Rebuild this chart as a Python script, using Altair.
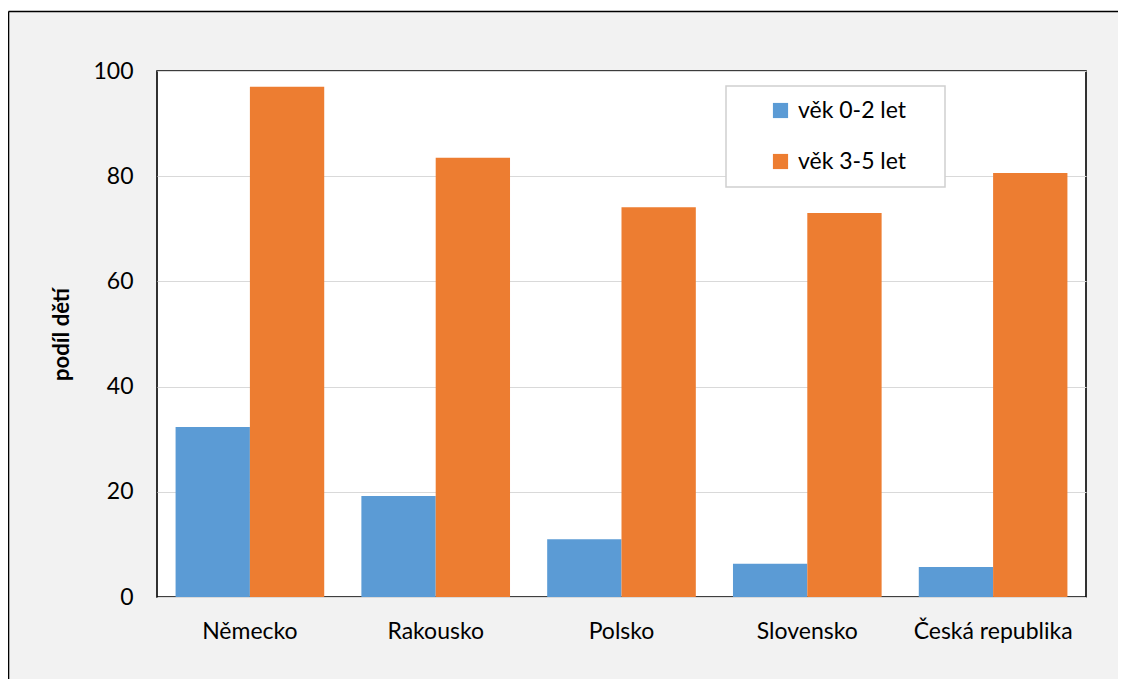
import altair as alt
import pandas as pd

countries = ["Německo", "Rakousko", "Polsko", "Slovensko", "Česká republika"]
age_0_2 = [32.3, 19.2, 11.0, 6.3, 5.7]
age_3_5 = [97.0, 83.5, 74.1, 73.0, 80.6]
series = ["věk 0-2 let", "věk 3-5 let"]
colors = ["#5b9bd5", "#ed7d31"]
y_ticks = [0, 20, 40, 60, 80, 100]

rows = []
for c, a, b in zip(countries, age_0_2, age_3_5):
    rows.append({"země": c, "skupina": series[0], "podíl": a})
    rows.append({"země": c, "skupina": series[1], "podíl": b})
df = pd.DataFrame(rows)

FONT = "Lato"

bars = alt.Chart(df).mark_bar().encode(
    x=alt.X("země:N", sort=countries,
            scale=alt.Scale(paddingInner=0.2, paddingOuter=0.1),
            axis=alt.Axis(title=None, labelAngle=0, ticks=False, domain=False,
                          labelFontSize=23, labelPadding=23, labelColor="black",
                          labelFont=FONT, grid=False)),
    xOffset=alt.XOffset("skupina:N", sort=series, scale=alt.Scale(paddingInner=0, paddingOuter=0)),
    y=alt.Y("podíl:Q", scale=alt.Scale(domain=[0, 100], nice=False),
            axis=alt.Axis(values=y_ticks, title="podíl dětí", ticks=False, domain=False,
                          labelFontSize=23, labelPadding=24, labelColor="black", labelFont=FONT,
                          titleFontSize=22, titleFont=FONT, titleFontWeight="bold",
                          titleColor="black", titlePadding=19,
                          grid=True, gridColor="#d9d9d9", gridWidth=1.2)),
    color=alt.Color("skupina:N", scale=alt.Scale(domain=series, range=colors),
                    legend=alt.Legend(title=None, orient="none", legendX=612, legendY=28,
                                      symbolType="square", symbolSize=230,
                                      symbolStrokeWidth=0, labelFontSize=23,
                                      labelFont=FONT, labelColor="black",
                                      labelOffset=6, rowPadding=27, padding=0)),
)

one = pd.DataFrame({"k": [0]})

legend_box = alt.Chart(one).mark_rect(fill="white", stroke="#d0d0d0", strokeWidth=1.5).encode(
    x=alt.value(569), x2=alt.value(788), y=alt.value(15), y2=alt.value(116)
)

top_band = alt.Chart(one).mark_rect(fill="white", clip=False).encode(
    x=alt.value(-160), x2=alt.value(1000), y=alt.value(-70), y2=alt.value(-60)
)

frame_top = alt.Chart(one).mark_rule(color="black", strokeWidth=1.6, clip=False).encode(
    x=alt.value(-148.5), x2=alt.value(1000), y=alt.value(-59.5)
)
frame_left = alt.Chart(one).mark_rule(color="black", strokeWidth=1.6, clip=False).encode(
    x=alt.value(-148.5), y=alt.value(-59.5), y2=alt.value(700)
)

chart = alt.layer(top_band, frame_top, frame_left, bars, legend_box).properties(
    width=929, height=526,
    autosize=alt.AutoSizeParams(type="none"),
    padding={"left": 149, "top": 63, "right": 32, "bottom": 82},
    background="#f2f2f2",
).configure_view(
    stroke="black", strokeWidth=1.6, fill="white"
)

chart.save("out.html", embed_options={"renderer": "svg", "actions": False})
